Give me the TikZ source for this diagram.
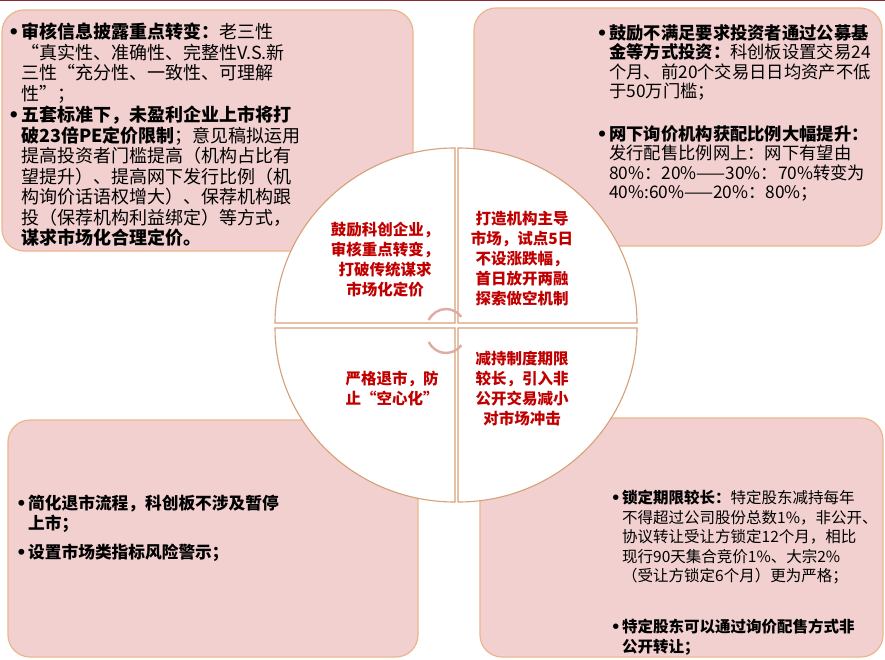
\documentclass[tikz,border=0pt]{standalone}
\usepackage{fontspec}
\setmainfont{Noto Sans CJK SC}
\newfontfamily\dejavu{DejaVu Sans}
\definecolor{boxfill}{RGB}{242,208,208}
\definecolor{boxline}{RGB}{236,182,140}
\definecolor{quadline}{RGB}{214,160,120}
\definecolor{redtext}{RGB}{192,0,0}
\definecolor{ringcol}{RGB}{222,172,165}
\definecolor{topline}{RGB}{140,40,50}
\tikzset{
  infobox/.style={fill=boxfill, draw=boxline, line width=1.2pt, rounded corners=22pt},
  quad/.style={fill=white, draw=quadline, line width=1.1pt},
  tltext/.style={anchor=north west, inner sep=0pt, align=left, text=black, font=\fontsize{18}{20.5}\selectfont},
  trtext/.style={anchor=north west, inner sep=0pt, align=left, text=black, font=\fontsize{17.3}{19.6}\selectfont},
  btext/.style={anchor=north west, inner sep=0pt, align=left, text=black, font=\fontsize{16.7}{19.5}\selectfont},
  brtext/.style={anchor=north west, inner sep=0pt, align=left, text=black, font=\fontsize{15.5}{19.5}\selectfont},
  ctext/.style={anchor=center, inner sep=0pt, align=center, text=redtext, font=\bfseries\fontsize{15.5}{20}\selectfont},
  ring/.style={draw=ringcol, line width=2.4pt}
}
\newcommand{\bul}{\makebox[0pt][r]{{\dejavu\bfseries •}\hspace{1.5pt}}}
\begin{document}
\begin{tikzpicture}[x=1pt,y=-1pt]
\useasboundingbox (0,0) rectangle (885,660);
\fill[white] (0,0) rectangle (885,660);
\draw[topline, line width=1.5pt] (0,0.75) -- (885,0.75);
% boxes
\path[infobox] (2,10) rectangle (413,251);
\path[infobox] (474,8) rectangle (882,246);
\path[infobox] (8,420) rectangle (418,657);
\path[infobox] (480,418) rectangle (883,657);
% quadrants
\path[quad] (455,323) -- (275,323) arc[start angle=180, end angle=270, x radius=180, y radius=175] -- cycle;
\path[quad] (458,323) -- (458,148) arc[start angle=270, end angle=360, x radius=179, y radius=175] -- cycle;
\path[quad] (455,328) -- (455,502) arc[start angle=90, end angle=180, x radius=180, y radius=174] -- cycle;
\path[quad] (458,328) -- (637,328) arc[start angle=0, end angle=90, x radius=179, y radius=174] -- cycle;
% center ring
\draw[ring] (446,331) ++(210:20 and 22) arc[start angle=210, end angle=320, x radius=20, y radius=22];
\draw[ring] (446,331) ++(40:20 and 22) arc[start angle=40, end angle=150, x radius=20, y radius=22];
% top-left text
\node[tltext] (tl1) at (21,23) {\bul\textbf{审核信息披露重点转变：}老三性\\“真实性、准确性、完整性V.S.新\\三性“充分性、一致性、可理解\\性”；};
\node[tltext] (tl2) at (21,106) {\bul\textbf{五套标准下，未盈利企业上市将打}\\\textbf{破23倍PE定价限制}；意见稿拟运用\\提高投资者门槛提高（机构占比有\\望提升）、提高网下发行比例（机\\构询价话语权增大）、保荐机构跟\\投（保荐机构利益绑定）等方式，\\\textbf{谋求市场化合理定价。}};
% top-right text
\node[trtext] (tr1) at (609,24) {\bul\textbf{鼓励不满足要求投资者通过公募基}\\\textbf{金等方式投资：}科创板设置交易24\\个月、前20个交易日日均资产不低\\于50万门槛；};
\node[trtext] (tr2) at (609,125) {\bul\textbf{网下询价机构获配比例大幅提升：}\\发行配售比例网上：网下有望由\\80\%：20\%——30\%：70\%转变为\\40\%:60\%——20\%：80\%；};
% bottom-left text
\node[btext] (bl1) at (28,495) {\bul\textbf{简化退市流程，科创板不涉及暂停}\\\textbf{上市；}};
\node[btext] (bl2) at (28,544) {\bul\textbf{设置市场类指标风险警示；}};
% bottom-right text
\node[brtext] (br1) at (622,490) {\bul\textbf{锁定期限较长：}特定股东减持每年\\不得超过公司股份总数1\%，非公开、\\协议转让受让方锁定12个月，相比\\现行90天集合竞价1\%、大宗2\%\\（受让方锁定6个月）更为严格；};
\node[brtext] (br2) at (622,619) {\bul\textbf{特定股东可以通过询价配售方式非}\\\textbf{公开转让；}};
% circle texts
\node[ctext] (c1) at (385,260) {鼓励科创企业，\\审核重点转变，\\打破传统谋求\\市场化定价};
\node[ctext] (c2) at (522,259) {打造机构主导\\市场，试点5日\\不设涨跌幅，\\首日放开两融\\探索做空机制};
\node[ctext] (c3) at (392,388) {严格退市，防\\止“空心化”};
\node[ctext] (c4) at (522,389) {减持制度期限\\较长，引入非\\公开交易减小\\对市场冲击};
\end{tikzpicture}
\end{document}
